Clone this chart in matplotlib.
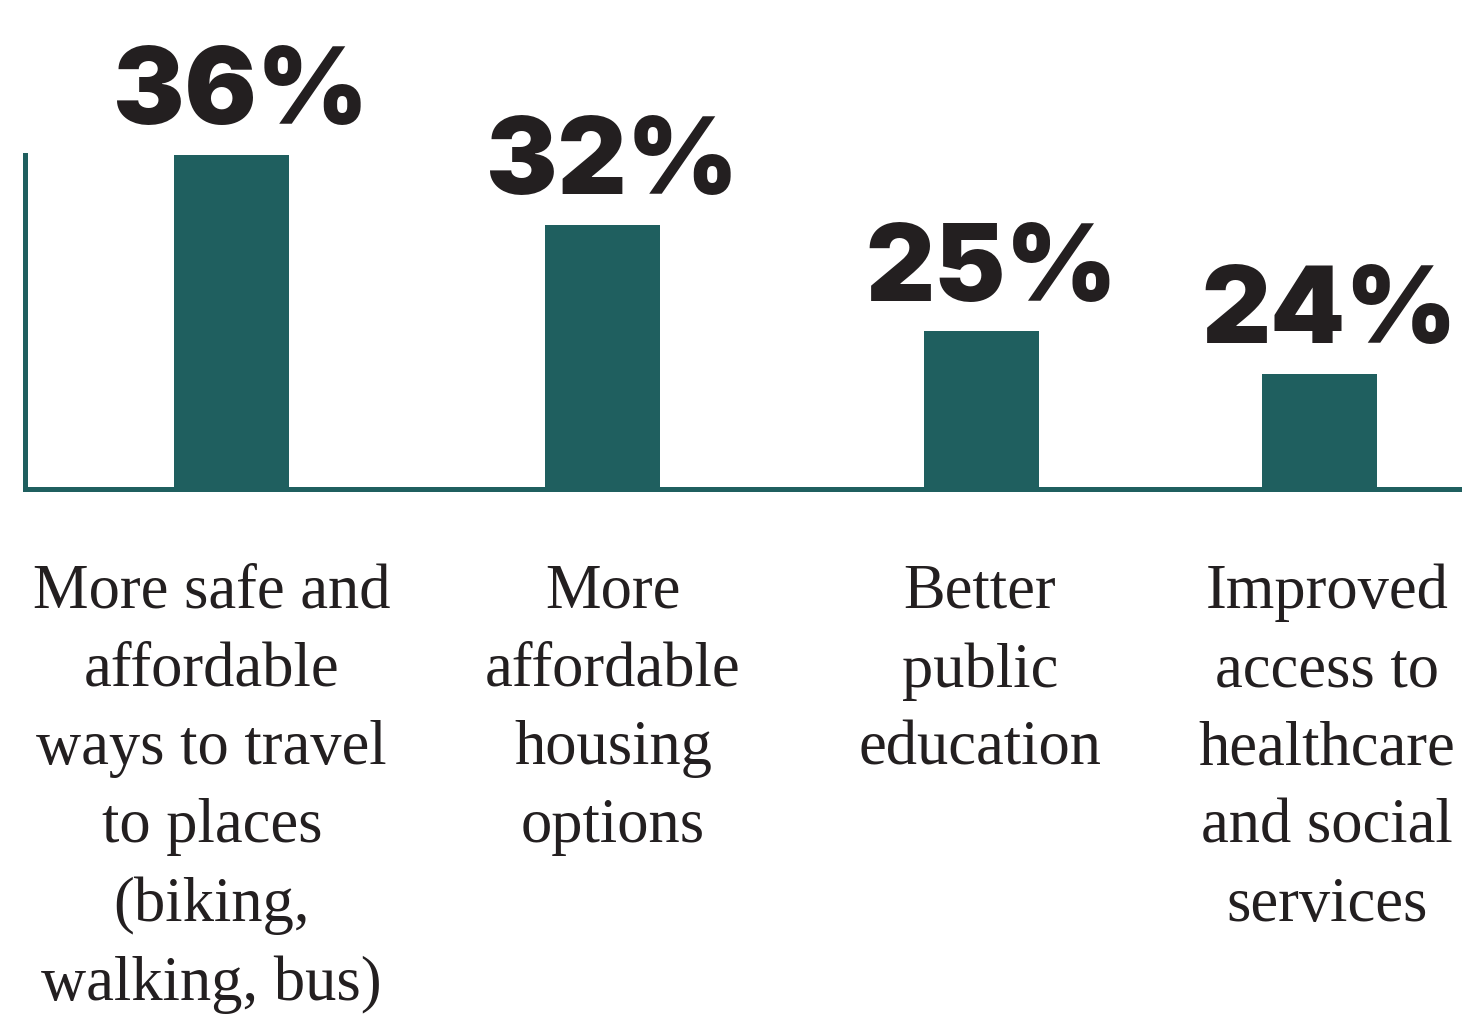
import matplotlib.pyplot as plt

# ===========================================

categories = [
  "More safe and\naffordable\nways to travel\nto places\n(biking,\nwalking, bus)",
  "More\naffordable\nhousing\noptions",
  "Better\npublic\neducation",
  "Improved\naccess to\nhealthcare\nand social\nservices",
]
pct_labels = [36, 32, 25, 24]
# bar lengths as drawn in the picture (not proportional to the labels)
bar_heights = [36, 28.45, 17.0, 12.4]

teal = "#1f5f5f"
dark = "#231f20"

# layout: bar and label centres (bars are not evenly spaced in the original)
bar_x = [0, 1.022, 2.069, 3.0]
label_x = [-0.054, 1.052, 2.064, 3.02]

# ===========================================

fig = plt.figure(figsize=(14.62, 10.20), dpi=100)
ax = fig.add_axes([25/1462, 530/1020, 1437/1462, 334/1020])

ax.bar(bar_x, bar_heights, width=0.317, color=teal, zorder=3)

ax.set_xlim(-0.569, 3.393)
ax.set_ylim(0, 36)

for side in ["top", "right"]:
  ax.spines[side].set_visible(False)
for side in ["left", "bottom"]:
  ax.spines[side].set_color(teal)
  ax.spines[side].set_linewidth(3.6)
ax.set_xticks([])
ax.set_yticks([])

for x, h, p in zip(bar_x, bar_heights, pct_labels):
  ax.annotate(f"{p}%", xy=(x, h), xytext=(7, 7), textcoords="offset points",
              ha="center", va="bottom", fontsize=77, fontweight="black",
              family=["Inter", "Lato", "DejaVu Sans"], color=dark, annotation_clip=False)

for x, lab in zip(label_x, categories):
  ax.annotate(lab, xy=(x, 0), xytext=(0, -53), textcoords="offset points",
              ha="center", va="top", fontsize=45, family="Liberation Serif",
              color=dark, linespacing=1.46, annotation_clip=False)

fig.savefig("out.png", dpi=100)
